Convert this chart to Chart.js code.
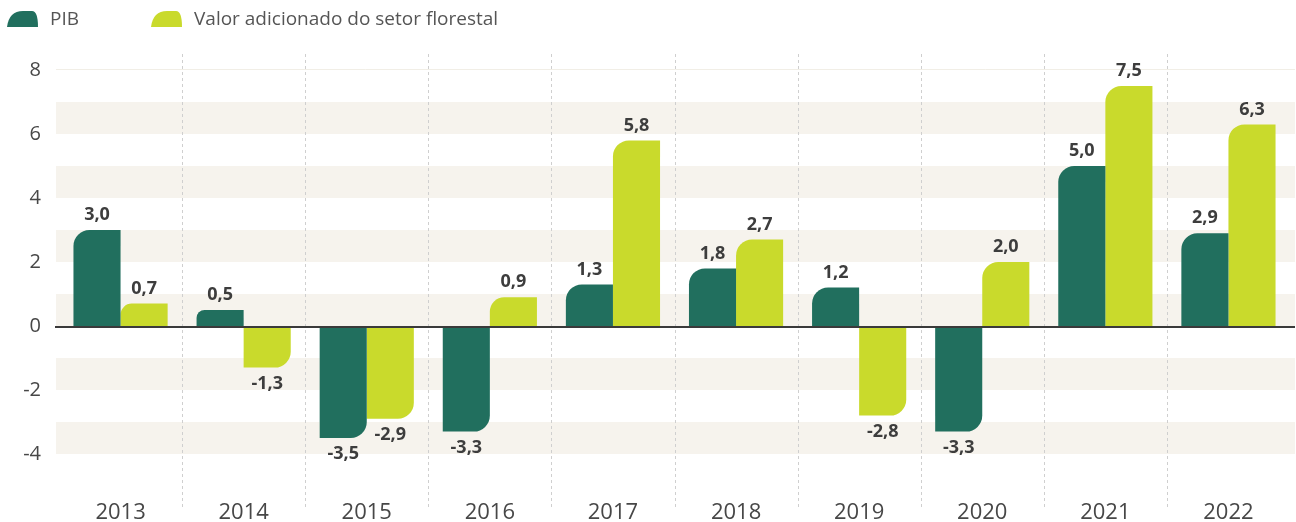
<!DOCTYPE html>
<html>
<head>
<meta charset="utf-8">
<script src="https://cdn.jsdelivr.net/npm/chart.js@4"></script>
<style>
  html, body { margin: 0; padding: 0; background: #ffffff; overflow: hidden; }
  #wrap { width: 1296px; height: 522px; position: relative; }
  canvas { display: block; }
</style>
</head>
<body>
<div id="wrap"><canvas id="c" width="1296" height="522"></canvas></div>
<script>
const categories = ['2013', '2014', '2015', '2016', '2017', '2018', '2019', '2020', '2021', '2022'];
const pibValues = [3.0, 0.5, -3.5, -3.3, 1.3, 1.8, 1.2, -3.3, 5.0, 2.9];
const florestalValues = [0.7, -1.3, -2.9, 0.9, 5.8, 2.7, -2.8, 2.0, 7.5, 6.3];
const seriesLabels = ['PIB', 'Valor adicionado do setor florestal'];
const yTickValues = [-4, -2, 0, 2, 4, 6, 8];
const bandStarts = [-4, -2, 0, 2, 4, 6];

const PIB_COLOR = '#216f5e';
const FLOR_COLOR = '#c9da2c';
const BAND_COLOR = '#f6f3ed';
const TEXT_COLOR = '#474747';
const LABEL_COLOR = '#3d3d3d';

function radiusFor(ctx) {
  const v = ctx.raw;
  if (v === undefined || v === null) return 0;
  return v >= 0 ? { topLeft: 16, topRight: 0, bottomLeft: 0, bottomRight: 0 }
                : { topLeft: 0, topRight: 0, bottomLeft: 0, bottomRight: 16 };
}

const decorPlugin = {
  id: 'decor',
  beforeDatasetsDraw(chart) {
    const { ctx, chartArea } = chart;
    const y = chart.scales.y, x = chart.scales.x;
    const left = chartArea.left - 3, right = chartArea.right + 5;
    ctx.save();
    ctx.fillStyle = BAND_COLOR;
    bandStarts.forEach(v => {
      const y1 = y.getPixelForValue(v + 1), y0 = y.getPixelForValue(v);
      ctx.fillRect(left, y1, right - left, y0 - y1);
    });
    ctx.strokeStyle = '#f1eee6';
    ctx.lineWidth = 1;
    const y8 = Math.round(y.getPixelForValue(8)) - 0.5;
    ctx.beginPath(); ctx.moveTo(left, y8); ctx.lineTo(right, y8); ctx.stroke();
    ctx.strokeStyle = '#cfcfcf';
    ctx.setLineDash([3, 3]);
    const lineBottom = y.getPixelForValue(-5.75);
    for (let i = 1; i < categories.length; i++) {
      const px = Math.round((x.getPixelForValue(i - 1) + x.getPixelForValue(i)) / 2) + 0.5;
      ctx.beginPath();
      ctx.moveTo(px, chartArea.top);
      ctx.lineTo(px, lineBottom);
      ctx.stroke();
    }
    ctx.restore();
  },
  afterDatasetsDraw(chart) {
    const { ctx, chartArea } = chart;
    const y = chart.scales.y;
    const left = chartArea.left - 4, right = chartArea.right + 5;
    ctx.save();
    ctx.strokeStyle = '#3a3a3a';
    ctx.lineWidth = 2;
    const y0 = y.getPixelForValue(0) + 1;
    ctx.beginPath(); ctx.moveTo(left, y0); ctx.lineTo(right, y0); ctx.stroke();
    ctx.fillStyle = LABEL_COLOR;
    ctx.font = 'bold 18px "Open Sans"';
    ctx.textAlign = 'center';
    ctx.textBaseline = 'middle';
    chart.data.datasets.forEach((ds, di) => {
      const meta = chart.getDatasetMeta(di);
      meta.data.forEach((bar, i) => {
        const v = ds.data[i];
        const txt = v.toFixed(1).replace('.', ',');
        const ty = v >= 0 ? bar.y - 15 : bar.y + 16;
        ctx.fillText(txt, bar.x, ty);
      });
    });
    ctx.restore();
  },
  afterDraw(chart) {
    const { ctx } = chart;
    const items = [
      { x: 7, color: PIB_COLOR, text: seriesLabels[0] },
      { x: 151, color: FLOR_COLOR, text: seriesLabels[1] }
    ];
    ctx.save();
    items.forEach(it => {
      const x0 = it.x, top = 11, bot = 27, w = 31;
      ctx.fillStyle = it.color;
      ctx.beginPath();
      ctx.moveTo(x0, bot);
      ctx.quadraticCurveTo(x0 + 2, top, x0 + 16, top);
      ctx.lineTo(x0 + 25, top);
      ctx.quadraticCurveTo(x0 + w, top, x0 + w, bot);
      ctx.closePath();
      ctx.fill();
      ctx.fillStyle = '#555555';
      ctx.font = '19px "Open Sans"';
      ctx.textAlign = 'left';
      ctx.textBaseline = 'middle';
      ctx.fillText(it.text, x0 + w + 12, 20);
    });
    ctx.restore();
  }
};

new Chart(document.getElementById('c'), {
  type: 'bar',
  data: {
    labels: categories,
    datasets: [
      { label: seriesLabels[0], data: pibValues, backgroundColor: PIB_COLOR, borderWidth: 0,
        borderRadius: radiusFor, borderSkipped: 'start' },
      { label: seriesLabels[1], data: florestalValues, backgroundColor: FLOR_COLOR, borderWidth: 0,
        borderRadius: radiusFor, borderSkipped: 'start' }
    ]
  },
  options: {
    responsive: false,
    animation: false,
    datasets: { bar: { categoryPercentage: 0.765, barPercentage: 1.0 } },
    layout: { padding: { top: 54, bottom: 0, left: 0, right: 6 } },
    plugins: { legend: { display: false }, tooltip: { enabled: false } },
    scales: {
      x: {
        grid: { display: false },
        border: { display: false },
        ticks: { color: TEXT_COLOR, font: { family: 'Open Sans', size: 22 }, padding: -10, maxRotation: 0 },
        afterFit(s) { s.height = 20; s.paddingLeft = 0; s.paddingRight = 0; }
      },
      y: {
        min: -5.5,
        max: 8.5,
        grid: { display: false, drawTicks: false },
        border: { display: false },
        afterBuildTicks(s) { s.ticks = yTickValues.map(v => ({ value: v })); },
        ticks: { color: TEXT_COLOR, font: { family: 'Open Sans', size: 20 }, padding: 18 },
        afterFit(s) { s.width = 59; s.paddingTop = 0; s.paddingBottom = 0; }
      }
    }
  },
  plugins: [decorPlugin]
});
</script>
</body>
</html>
